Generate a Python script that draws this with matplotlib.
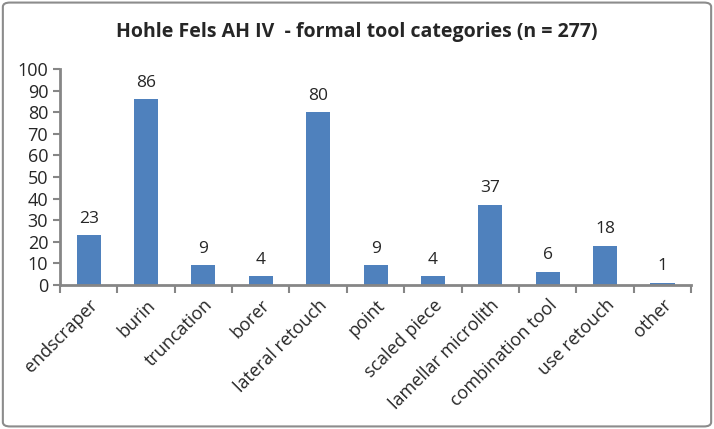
import numpy as np
import matplotlib.pyplot as plt
from matplotlib.patches import FancyBboxPatch

# formal tool categories, Hohle Fels AH IV
categories = ["endscraper", "burin", "truncation", "borer", "lateral retouch",
              "point", "scaled piece", "lamellar microlith", "combination tool",
              "use retouch", "other"]
counts = [23, 86, 9, 4, 80, 9, 4, 37, 6, 18, 1]
yticks = list(range(0, 101, 10))

plt.rcParams['font.family'] = ['Open Sans', 'DejaVu Sans']
axis_col = '#868686'
text_col = '#262626'

fig = plt.figure(figsize=(7.14, 4.29), dpi=100)
ax = fig.add_axes([0.084, 0.336, 0.884, 0.503])

x = np.arange(len(categories))
ax.bar(x, counts, width=0.42, color='#4F81BD', zorder=2)
for xi, c in zip(x, counts):
    ax.text(xi, c + 4, str(c), ha='center', va='bottom', fontsize=12.5, color=text_col)

ax.set_xlim(-0.5, len(categories) - 0.5)
ax.set_ylim(0, 100)
ax.set_yticks(yticks)
ax.tick_params(axis='y', labelsize=13, colors=axis_col, labelcolor=text_col,
               length=5, width=1.5, direction='out')
ax.set_xticks(np.arange(-0.5, len(categories), 1))
ax.set_xticklabels([])
ax.tick_params(axis='x', colors=axis_col, length=6, width=1.5, direction='out')
ax.set_xticks(x, minor=True)
ax.set_xticklabels(categories, minor=True, rotation=45, ha='right',
                   rotation_mode='anchor', fontsize=13, color=text_col)
ax.tick_params(axis='x', which='minor', length=0, pad=8)

for s in ['top', 'right']:
    ax.spines[s].set_visible(False)
for s in ['left', 'bottom']:
    ax.spines[s].set_color(axis_col)
    ax.spines[s].set_linewidth(2)

fig.text(0.5, 0.925, "Hohle Fels AH IV  - formal tool categories (n = 277)",
         ha='center', va='center', fontsize=14, fontweight='bold', color=text_col)

border = FancyBboxPatch((0.004, 0.006), 0.992, 0.988,
                        boxstyle='round,pad=0,rounding_size=0.01',
                        transform=fig.transFigure, fill=False,
                        edgecolor='#8c8c8c', linewidth=1.5)
fig.patches.append(border)

fig.savefig('out.png', dpi=100)
